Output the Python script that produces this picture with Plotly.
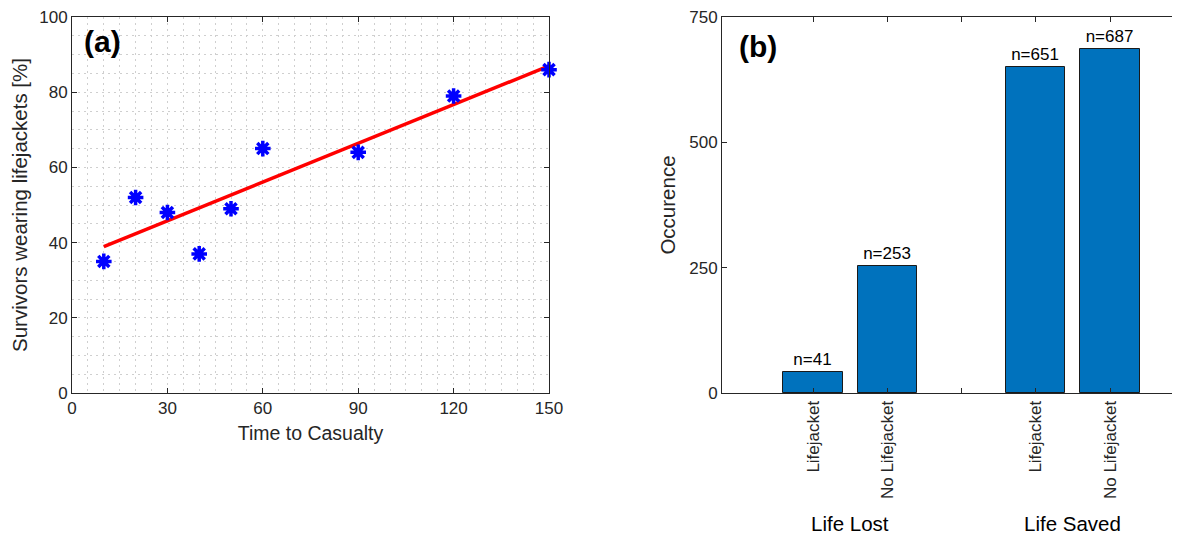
import plotly.graph_objects as go

# ---------------- data ----------------
# Panel (a): survivors wearing lifejackets vs time to casualty
time_to_casualty = [10, 20, 30, 40, 50, 60, 90, 120, 150]
survivors_pct = [35, 52, 48, 37, 49, 65, 64, 79, 86]
# trend line (endpoints)
fit_x = [10, 150]
fit_y = [38.9, 87.0]

# Panel (b): occurrences
groups = ["Life Lost", "Life Saved"]
subcats = ["Lifejacket", "No Lifejacket"]
counts = [[41, 253], [651, 687]]

x_ticks_a = [0, 30, 60, 90, 120, 150]
y_ticks_a = [0, 20, 40, 60, 80, 100]
y_ticks_b = [0, 250, 500, 750]

# ---------------- style ----------------
W, H = 1180, 538
OFF = 8  # page body margin that shifts the figure
FONT = "Liberation Sans, Arial, Helvetica, sans-serif"
AX = "#262626"
GRID = "#cfcfcf"
GRID_DASH = "2px,4px"
BAR = "#0072BD"


def px_x(p):
    return (p - OFF) / W


def px_y(p):
    return 1 - (p - OFF) / H


fig = go.Figure()

# ---- panel (a)
fig.add_trace(go.Scatter(
    x=fit_x, y=fit_y, mode="lines",
    line=dict(color="#ff0000", width=3.5),
    xaxis="x", yaxis="y", showlegend=False, cliponaxis=False))
fig.add_trace(go.Scatter(
    x=time_to_casualty, y=survivors_pct, mode="markers",
    marker=dict(symbol="asterisk-open", size=13, color="#0000ff",
                line=dict(color="#0000ff", width=3.5)),
    xaxis="x", yaxis="y", showlegend=False, cliponaxis=False))

# ---- panel (b)
bar_x, bar_y, bar_t, tickvals, ticktext = [], [], [], [], []
for gi, g in enumerate(groups):
    for si, s in enumerate(subcats):
        pos = gi * (len(subcats) + 1) + si + 1
        bar_x.append(pos)
        bar_y.append(counts[gi][si])
        bar_t.append(f"n={counts[gi][si]}")
        tickvals.append(pos)
        ticktext.append(s)
    if gi < len(groups) - 1:
        gap = gi * (len(subcats) + 1) + len(subcats) + 1
        tickvals.append(gap)
        ticktext.append("")

fig.add_trace(go.Bar(
    x=bar_x, y=bar_y, text=bar_t, textposition="outside",
    textfont=dict(family=FONT, size=17, color="#000000"),
    marker=dict(color=BAR, line=dict(color="#1a1a1a", width=1)),
    width=0.8, xaxis="x2", yaxis="y2", showlegend=False, cliponaxis=False))

axis_common = dict(
    showline=True, linecolor=AX, linewidth=1,
    ticks="inside", ticklen=5, tickcolor=AX, tickwidth=1,
    tickfont=dict(family=FONT, size=17, color=AX),
    ticklabeloverflow="allow",
    zeroline=False, automargin=False,
)

# right panel x-range: bar 1 centre at 813 px, 74.25 px per unit,
# axis from 722 px to the right edge of the figure (1188 px in page coords)
fig.update_layout(
    width=W, height=H,
    margin=dict(l=0, r=0, t=0, b=0),
    paper_bgcolor="white", plot_bgcolor="white",
    font=dict(family=FONT, color=AX),
    bargap=0,
    xaxis=dict(
        **axis_common, domain=[px_x(72), px_x(549)], range=[0, 150],
        tickvals=x_ticks_a, mirror="ticks", anchor="y",
        showgrid=True, gridcolor=GRID, griddash=GRID_DASH, gridwidth=1,
        minor=dict(dtick=5, tick0=0, showgrid=True, gridcolor=GRID,
                   griddash=GRID_DASH, gridwidth=1, ticks=""),
        title=dict(text="Time to Casualty",
                   font=dict(family=FONT, size=19.5, color=AX), standoff=8),
    ),
    yaxis=dict(
        **axis_common, domain=[px_y(393), px_y(17)], range=[0, 100],
        tickvals=y_ticks_a, mirror="ticks", anchor="x",
        showgrid=True, gridcolor=GRID, griddash=GRID_DASH, gridwidth=1,
        minor=dict(dtick=5, tick0=0, showgrid=True, gridcolor=GRID,
                   griddash=GRID_DASH, gridwidth=1, ticks=""),
        title=dict(text="Survivors wearing lifejackets [%]",
                   font=dict(family=FONT, size=20.5, color=AX), standoff=6),
    ),
    xaxis2=dict(
        **axis_common, domain=[px_x(722), 1.0], range=[-0.226, 6.05],
        tickvals=tickvals, ticktext=ticktext, tickangle=-90,
        mirror="ticks", anchor="y2", showgrid=False,
    ),
    yaxis2=dict(
        **axis_common, domain=[px_y(393), px_y(17)], range=[0, 750],
        tickvals=y_ticks_b, anchor="x2", showgrid=False,
        title=dict(text="Occurence",
                   font=dict(family=FONT, size=20.5, color=AX), standoff=8),
    ),
)

annotations = [
    dict(text="<b>(a)</b>", x=px_x(82), y=px_y(42), xref="paper", yref="paper",
         xanchor="left", yanchor="middle", showarrow=False,
         font=dict(family=FONT, size=30, color="#000000")),
    dict(text="<b>(b)</b>", x=px_x(737), y=px_y(47), xref="paper", yref="paper",
         xanchor="left", yanchor="middle", showarrow=False,
         font=dict(family=FONT, size=30, color="#000000")),
]
for gi, g in enumerate(groups):
    centre = gi * (len(subcats) + 1) + (len(subcats) + 1) / 2
    annotations.append(dict(
        text=g, x=centre, y=px_y(523), xref="x2", yref="paper",
        xanchor="center", yanchor="middle", showarrow=False,
        font=dict(family=FONT, size=20.5, color="#000000")))
fig.update_layout(annotations=annotations)

fig.write_html("out.html")
